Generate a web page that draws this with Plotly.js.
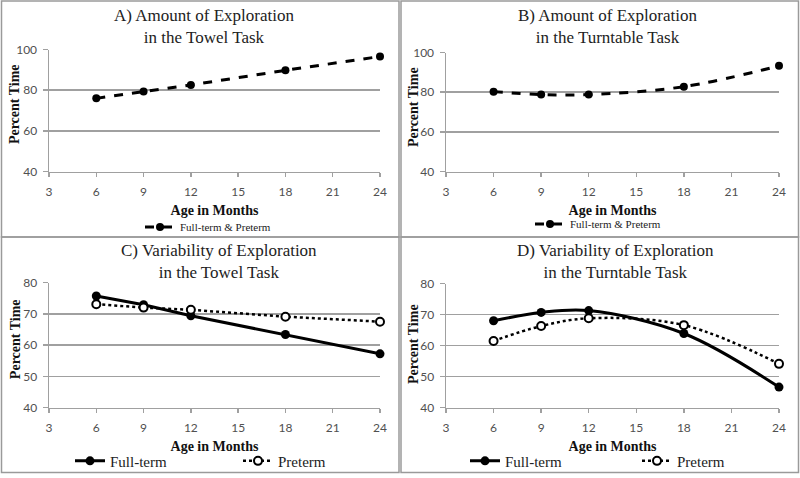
<!DOCTYPE html>
<html>
<head>
<meta charset="utf-8">
<script src="https://cdn.plot.ly/plotly-3.0.1.min.js"></script>
<style>html,body{margin:0;padding:0;background:#fff;}#chart{width:800px;height:478px;}</style>
</head>
<body>
<div id="chart"></div>
<script>
// ---- data ----
const months = [6, 9, 12, 18, 24];
const xTicks = [3, 6, 9, 12, 15, 18, 21, 24];
const towelAmount = [76.0, 79.4, 82.6, 89.8, 96.6];
const turntableAmount = [80.3, 78.8, 78.8, 82.8, 93.3];
const towelVarFull = [75.7, 72.9, 69.4, 63.4, 57.2];
const towelVarPre = [73.1, 72.0, 71.3, 69.1, 67.5];
const turnVarFull = [68.0, 70.7, 71.3, 63.9, 46.6];
const turnVarPre = [61.5, 66.3, 68.8, 66.6, 54.1];
const panelTitles = [
  "A) Amount of Exploration<br>in the Towel Task",
  "B) Amount of Exploration<br>in the Turntable Task",
  "C) Variability of Exploration<br>in the Towel Task",
  "D) Variability of Exploration<br>in the Turntable Task"
];
const xTitle = "Age in Months";
const yTitle = "Percent Time";
const seriesNames = ["Full-term & Preterm", "Full-term", "Preterm"];

// ---- layout helpers ----
const W = 800, H = 478;
const px = v => v / W;
const py = v => 1 - v / H;
const SERIF = "Liberation Serif, Times New Roman, serif";
const SANS = "Lato, Open Sans, sans-serif";

function xaxis(l, r, anchor) {
  return {
    domain: [px(l), px(r)], anchor: anchor, range: [3, 24], tickvals: xTicks,
    showgrid: false, zeroline: false, showline: true, linecolor: '#a0a0a0', linewidth: 1.5,
    ticks: 'outside', ticklen: 4, tickcolor: '#a0a0a0', tickwidth: 1.5, ticklabelstandoff: 5,
    tickfont: {family: SANS, size: 12, color: '#505050'},
    title: {text: '<b>' + xTitle + '</b>', font: {family: SERIF, size: 14, color: '#111'}, standoff: 6},
    fixedrange: true
  };
}
function yaxis(t, b, anchor, rng, dt) {
  return {
    domain: [py(b), py(t)], anchor: anchor, range: rng, dtick: dt, tick0: rng[0],
    showgrid: true, gridcolor: '#a0a0a0', gridwidth: 1.6, zeroline: false,
    showline: true, linecolor: '#a0a0a0', linewidth: 1.5,
    ticks: 'outside', ticklen: 5, tickcolor: '#a0a0a0', tickwidth: 1.5, ticklabelstandoff: 3,
    tickfont: {family: SANS, size: 12, color: '#505050'},
    fixedrange: true
  };
}

const dashed = {color: '#000', width: 3, dash: 'dash', shape: 'spline'};
const markerFilled = {color: '#000', size: 8, symbol: 'circle'};
const markerOpen = {color: '#fff', size: 8, symbol: 'circle', line: {color: '#000', width: 2}};

const traces = [
  {x: months, y: towelAmount, xaxis: 'x', yaxis: 'y', mode: 'lines+markers', name: seriesNames[0],
   line: Object.assign({}, dashed, {shape: 'linear'}), marker: markerFilled, cliponaxis: false, legend: 'legend'},
  {x: months, y: turntableAmount, xaxis: 'x2', yaxis: 'y2', mode: 'lines+markers', name: seriesNames[0],
   line: dashed, marker: markerFilled, cliponaxis: false, legend: 'legend2'},
  {x: months, y: towelVarFull, xaxis: 'x3', yaxis: 'y3', mode: 'lines+markers', name: seriesNames[1],
   line: {color: '#000', width: 3}, marker: Object.assign({}, markerFilled, {size: 9}), cliponaxis: false, legend: 'legend3'},
  {x: months, y: towelVarPre, xaxis: 'x3', yaxis: 'y3', mode: 'lines+markers', name: seriesNames[2],
   line: {color: '#000', width: 2.5, dash: 'dot'}, marker: markerOpen, cliponaxis: false, legend: 'legend4'},
  {x: months, y: turnVarFull, xaxis: 'x4', yaxis: 'y4', mode: 'lines+markers', name: seriesNames[1],
   line: {color: '#000', width: 3, shape: 'spline'}, marker: Object.assign({}, markerFilled, {size: 9}), cliponaxis: false, legend: 'legend5'},
  {x: months, y: turnVarPre, xaxis: 'x4', yaxis: 'y4', mode: 'lines+markers', name: seriesNames[2],
   line: {color: '#000', width: 2.5, dash: 'dot', shape: 'spline'}, marker: markerOpen, cliponaxis: false, legend: 'legend6'}
];

function leg(xl, yc, size) {
  return {x: px(xl), y: py(yc), xanchor: 'left', yanchor: 'middle', orientation: 'h',
    bgcolor: 'rgba(0,0,0,0)', borderwidth: 0,
    font: {family: SERIF, size: size, color: '#222'}};
}

function rect(l, t, r, b) {
  return {type: 'rect', xref: 'paper', yref: 'paper', x0: px(l), x1: px(r), y0: py(b), y1: py(t),
    line: {color: '#9a9a9a', width: 1.5}, fillcolor: 'rgba(0,0,0,0)', layer: 'below'};
}

function ttl(text, xc, yc) {
  return {text: text, xref: 'paper', yref: 'paper', x: px(xc), y: py(yc), xanchor: 'center', yanchor: 'middle',
    showarrow: false, font: {family: SERIF, size: 17, color: '#222'}, align: 'center'};
}
function ytl(xc, yc) {
  return {text: '<b>' + yTitle + '</b>', xref: 'paper', yref: 'paper', x: px(xc), y: py(yc), xanchor: 'center', yanchor: 'middle',
    textangle: -90, showarrow: false, font: {family: SERIF, size: 14, color: '#111'}};
}

const layout = {
  width: W, height: H, margin: {l: 0, r: 0, t: 0, b: 0},
  paper_bgcolor: '#fff', plot_bgcolor: '#fff', showlegend: true,
  xaxis: xaxis(49, 380, 'y'),   yaxis: yaxis(50, 173, 'x', [40, 100], 20),
  xaxis2: xaxis(446, 779, 'y2'), yaxis2: yaxis(53, 173, 'x2', [40, 100], 20),
  xaxis3: xaxis(49, 380, 'y3'), yaxis3: yaxis(285, 411, 'x3', [40, 80], 10),
  xaxis4: xaxis(446, 779, 'y4'), yaxis4: yaxis(286, 411, 'x4', [40, 80], 10),
  legend: leg(140, 229, 11),
  legend2: leg(530, 226, 11),
  legend3: leg(70, 465, 15),
  legend4: leg(238, 465, 15),
  legend5: leg(465, 465, 15),
  legend6: leg(637, 465, 15),
  shapes: [rect(1.5, 1, 399, 239), rect(401, 1, 798.5, 239), rect(1.5, 239, 399, 476.5), rect(401, 239, 798.5, 476.5)],
  annotations: [
    ttl(panelTitles[0], 204, 27), ttl(panelTitles[1], 607, 27), ttl(panelTitles[2], 219, 264), ttl(panelTitles[3], 615, 264),
    ytl(14, 105), ytl(413, 108), ytl(15, 342), ytl(413, 347)
  ]
};

Plotly.newPlot('chart', traces, layout, {staticPlot: true, displayModeBar: false});
</script>
</body>
</html>
